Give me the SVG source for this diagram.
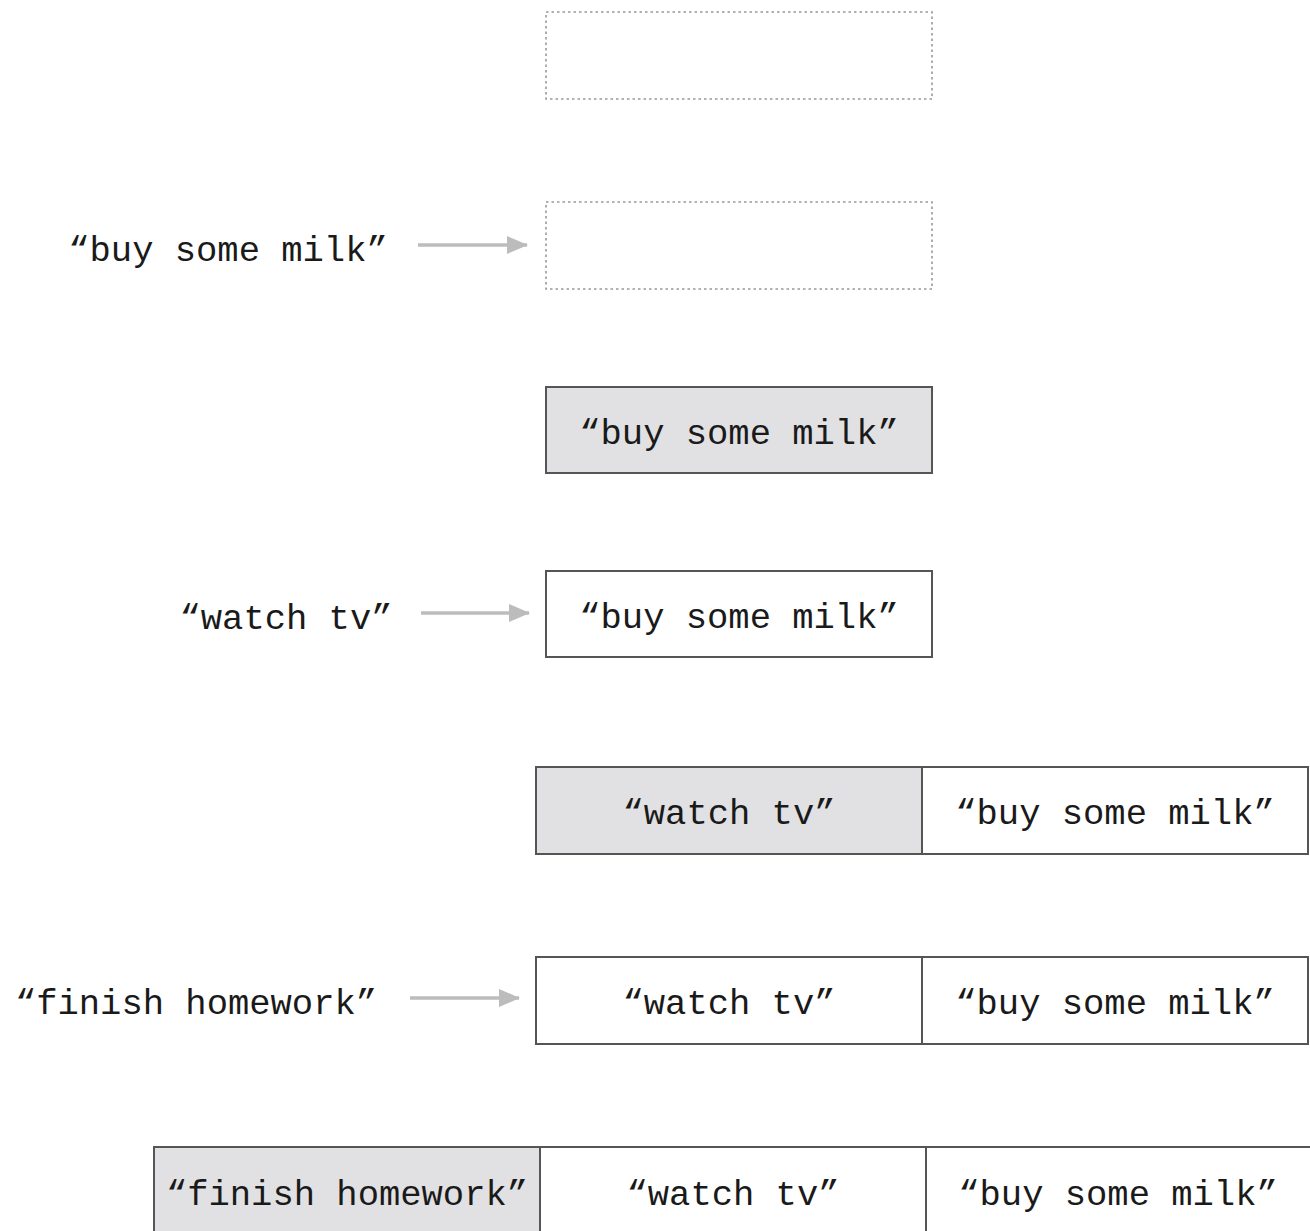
<svg xmlns="http://www.w3.org/2000/svg" width="1310" height="1231" viewBox="0 0 1310 1231">
  <defs>
    <style>
      .slot { fill: #ffffff; stroke: #555555; stroke-width: 2; }
      .head { fill: #e1e1e3; stroke: #555555; stroke-width: 2; }
      .empty { fill: none; stroke: #999999; stroke-width: 1.6; stroke-dasharray: 2.5 3; }
      .lbl { font-family: "Liberation Mono", "Courier New", monospace; font-size: 35.5px; fill: #1a1a1a; text-anchor: middle; }
      .arrow { stroke: #bcbcbc; stroke-width: 3.5; fill: none; }
    </style>
    <marker id="tip" markerWidth="22" markerHeight="18" refX="20" refY="9" orient="auto" markerUnits="userSpaceOnUse">
      <path d="M0,0 L21,9 L0,18 Z" fill="#bcbcbc"/>
    </marker>
  </defs>
  <rect width="1310" height="1231" fill="#ffffff"/>

  <!-- connectors: values being pushed onto the list -->
  <g id="connectors">
    <line class="arrow" x1="418" y1="245" x2="527" y2="245" marker-end="url(#tip)"/>
    <line class="arrow" x1="421" y1="613" x2="529" y2="613" marker-end="url(#tip)"/>
    <line class="arrow" x1="410" y1="998" x2="519" y2="998" marker-end="url(#tip)"/>
  </g>

  <!-- step 1: empty list -->
  <g id="empty-list">
    <rect class="empty" x="546" y="12" width="386" height="87"/>
  </g>

  <!-- step 2: push "buy some milk" -->
  <g id="push-milk">
    <text class="lbl" x="228" y="261">“buy some milk”</text>
    <rect class="empty" x="546" y="202" width="386" height="87"/>
  </g>

  <!-- step 3 -->
  <g id="list-1">
    <rect class="head" x="546" y="387" width="386" height="86"/>
    <text class="lbl" x="739" y="444">“buy some milk”</text>
  </g>

  <!-- step 4: push "watch tv" -->
  <g id="push-tv">
    <text class="lbl" x="286" y="629">“watch tv”</text>
    <rect class="slot" x="546" y="571" width="386" height="86"/>
    <text class="lbl" x="739" y="628">“buy some milk”</text>
  </g>

  <!-- step 5 -->
  <g id="list-2">
    <rect class="head" x="536" y="767" width="386" height="87"/>
    <text class="lbl" x="729" y="824">“watch tv”</text>
    <rect class="slot" x="922" y="767" width="386" height="87"/>
    <text class="lbl" x="1115" y="824">“buy some milk”</text>
  </g>

  <!-- step 6: push "finish homework" -->
  <g id="push-homework">
    <text class="lbl" x="196" y="1014">“finish homework”</text>
    <rect class="slot" x="536" y="957" width="386" height="87"/>
    <text class="lbl" x="729" y="1014">“watch tv”</text>
    <rect class="slot" x="922" y="957" width="386" height="87"/>
    <text class="lbl" x="1115" y="1014">“buy some milk”</text>
  </g>

  <!-- step 7 -->
  <g id="list-3">
    <rect class="head" x="154" y="1147" width="386" height="90"/>
    <text class="lbl" x="347" y="1205">“finish homework”</text>
    <rect class="slot" x="540" y="1147" width="386" height="90"/>
    <text class="lbl" x="733" y="1205">“watch tv”</text>
    <rect class="slot" x="926" y="1147" width="390" height="90"/>
    <text class="lbl" x="1118" y="1205">“buy some milk”</text>
  </g>
</svg>
